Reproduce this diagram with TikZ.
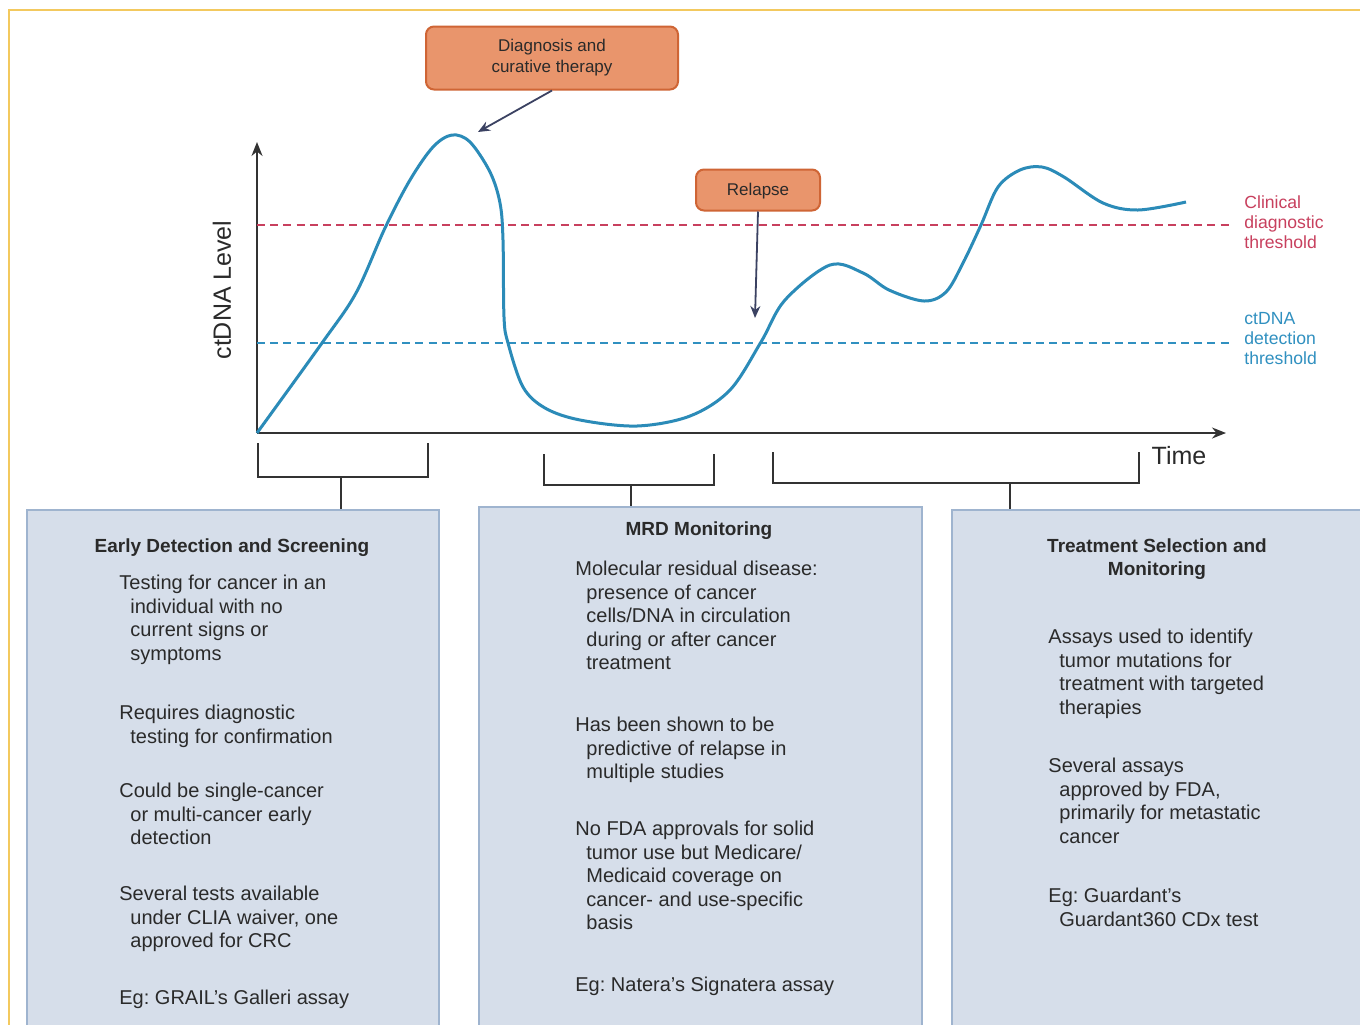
\documentclass[tikz,border=0pt]{standalone}
\usepackage{fontspec}
\setmainfont{Liberation Sans}
\usepackage{xcolor}
\usetikzlibrary{calc, arrows.meta, positioning}

\definecolor{curveblue}{HTML}{2B8BB8}
\definecolor{clinicalred}{HTML}{C8405E}
\definecolor{detectblue}{HTML}{3090C0}
\definecolor{calloutfill}{HTML}{E9956C}
\definecolor{calloutline}{HTML}{CF6535}
\definecolor{arrownavy}{HTML}{3B4262}
\definecolor{boxfill}{HTML}{D6DEEA}
\definecolor{boxline}{HTML}{9FB4CF}
\definecolor{framegold}{HTML}{F3C95E}
\definecolor{txt}{HTML}{2A2A2A}
\definecolor{axisgray}{HTML}{333333}

\newcommand{\wrapin}{\hspace*{5.5pt}}
\frenchspacing

\begin{document}
\begin{tikzpicture}[x=0.5pt, y=-0.5pt,
	callout/.style={draw=calloutline, fill=calloutfill, rounded corners=4pt, line width=1pt, align=center, text=txt, font=\fontsize{8.5}{10.5}\selectfont},
	infobox/.style={draw=boxline, fill=boxfill, line width=0.8pt, anchor=north west, inner sep=0pt},
	para/.style={anchor=north west, inner sep=0pt, align=left, text=txt, font=\fontsize{10}{11.75}\selectfont},
	heading/.style={inner sep=0pt, align=center, text=txt, font=\bfseries\fontsize{9.5}{11.5}\selectfont},
	bracket/.style={draw=axisgray, line width=1pt},
	pointer/.style={-{Stealth[length=6pt, width=5pt]}, line width=0.9pt, draw=arrownavy},
	axis/.style={-{Stealth[length=7pt, width=5.5pt]}, line width=1pt, draw=axisgray}]
	
	\useasboundingbox (0,0) rectangle (1360,1024);
	\fill[white] (0,0) rectangle (1360,1024);
	
	%frame
	\draw[framegold, line width=1.2pt] (8,10) -- (1362,10);
	\draw[framegold, line width=1.2pt] (9,10) -- (9,1026);
	
	%axes
	\coordinate (origin) at (257,433);
	\draw[axis] (origin) -- (257,142);
	\draw[axis] (origin) -- (1226,433);
	\node[rotate=90, text=txt, font=\fontsize{12.5}{14}\selectfont] (level label) at (222,290) {ctDNA Level};
	\node[text=txt, font=\fontsize{12.5}{14}\selectfont] (time label) at (1179,456) {Time};
	
	%thresholds
	\draw[clinicalred, line width=1pt, dash pattern=on 4pt off 2.6pt] (origin |- 0,225) -- (1230,225);
	\draw[detectblue, line width=1pt, dash pattern=on 4pt off 2.6pt] (origin |- 0,343) -- (1230,343);
	\node[anchor=west, inner sep=0pt, align=left, text=clinicalred, font=\fontsize{8.8}{10}\selectfont] (clinical label) at (1244,222) {Clinical\\diagnostic\\threshold};
	\node[anchor=west, inner sep=0pt, align=left, text=detectblue, font=\fontsize{8.8}{10}\selectfont] (detect label) at (1244,339) {ctDNA\\detection\\threshold};
	
	%ctDNA curve
	\draw[curveblue, line width=1.5pt, line join=round] plot[smooth, tension=0.55] coordinates {
		(257,433) (322,343) (356,293) (385,228) (410,180) (433,147) (452,135) (470,142)
		(490,172) (500,203) (503,240) (504,317) (508,343) (523,387) (545,408) (580,420)
		(637,426) (690,416) (730,390) (761,342) (785,300) (830,265) (863,273) (889,290)
		(924,301) (946,292) (963,263) (981,225) (998,187) (1020,170) (1042,167) (1064,177)
		(1103,203) (1138,210) (1186,202)};
	
	%callouts
	\node[callout, minimum width=126pt, minimum height=31.5pt] (diagnosis) at (552,58) {Diagnosis and\\curative therapy};
	\node[callout, minimum width=62pt, minimum height=20.5pt, text depth=1pt] (relapse) at (758,190) {Relapse};
	\coordinate (peak tip) at (478,132);
	\coordinate (relapse tip) at (755,318);
	\draw[pointer] (diagnosis.south) -- (peak tip);
	\draw[pointer] (relapse.south) -- (relapse tip);
	
	%boxes
	\node[infobox, minimum width=206pt, minimum height=262pt] (early box) at (26,509) {};
	\node[infobox, minimum width=221.5pt, minimum height=264pt] (mrd box) at (478,506) {};
	\node[infobox, minimum width=207pt, minimum height=262pt] (treat box) at (951,509) {};
	
	%brackets
	\draw[bracket] (258,443) |- (428,477) -- (428,443);
	\draw[bracket] (544,454) |- (714,485) -- (714,454);
	\draw[bracket] (773,452) |- (1139,483) -- (1139,452);
	\coordinate (early stem) at (341,477);
	\coordinate (mrd stem) at (631,485);
	\coordinate (treat stem) at (1010,483);
	\draw[bracket] (early stem) -- (early stem |- early box.north);
	\draw[bracket] (mrd stem) -- (mrd stem |- mrd box.north);
	\draw[bracket] (treat stem) -- (treat stem |- treat box.north);
	
	%early detection text
	\node[heading] (early title) at (232,548) {Early Detection and Screening};
	\node[para] (early a) at (119,575) {Testing for cancer in an\\\wrapin individual with no\\\wrapin current signs or\\\wrapin symptoms};
	\node[para] (early b) at (119,705) {Requires diagnostic\\\wrapin testing for confirmation};
	\node[para] (early c) at (119,783) {Could be single-cancer\\\wrapin or multi-cancer early\\\wrapin detection};
	\node[para] (early d) at (119,886) {Several tests available\\\wrapin under CLIA waiver, one\\\wrapin approved for CRC};
	\node[para] (early e) at (119,990) {Eg: GRAIL’s Galleri assay};
	
	%mrd text
	\node[heading] (mrd title) at (699,531) {MRD Monitoring};
	\node[para] (mrd a) at (575,561) {Molecular residual disease:\\\wrapin presence of cancer\\\wrapin cells/DNA in circulation\\\wrapin during or after cancer\\\wrapin treatment};
	\node[para] (mrd b) at (575,717) {Has been shown to be\\\wrapin predictive of relapse in\\\wrapin multiple studies};
	\node[para] (mrd c) at (575,821) {No FDA approvals for solid\\\wrapin tumor use but Medicare/\\\wrapin Medicaid coverage on\\\wrapin cancer- and use-specific\\\wrapin basis};
	\node[para] (mrd d) at (575,977) {Eg: Natera's Signatera assay};
	
	%treatment text
	\node[heading] (treat title) at (1157,559) {Treatment Selection and\\Monitoring};
	\node[para] (treat a) at (1048,629) {Assays used to identify\\\wrapin tumor mutations for\\\wrapin treatment with targeted\\\wrapin therapies};
	\node[para] (treat b) at (1048,758) {Several assays\\\wrapin approved by FDA,\\\wrapin primarily for metastatic\\\wrapin cancer};
	\node[para] (treat c) at (1048,888) {Eg: Guardant’s\\\wrapin Guardant360 CDx test};
\end{tikzpicture}
\end{document}
